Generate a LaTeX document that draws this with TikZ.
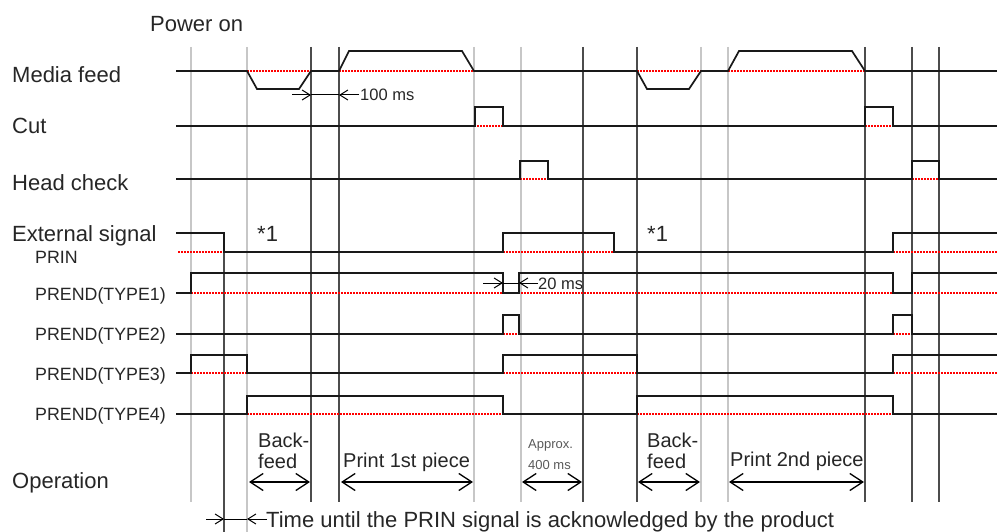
\documentclass[tikz,border=0pt]{standalone}
\usepackage{fontspec}
\setmainfont{Liberation Sans}
\usetikzlibrary{arrows.meta}
\begin{document}
\begin{tikzpicture}[x=1pt,y=-1pt,
  sig/.style={line width=1.7pt, black!90},
  refl/.style={red, dash pattern=on 2pt off 1pt, line width=1.2pt},
  vgray/.style={line width=2.4pt, black!22},
  vdark/.style={line width=1.1pt, black!70},
  lbl/.style={anchor=base west, inner sep=0pt, font=\fontsize{22}{24}\selectfont, text=black!85},
  slbl/.style={anchor=base west, inner sep=0pt, font=\fontsize{17.8}{20}\selectfont, text=black!85},
  oplbl/.style={anchor=base west, inner sep=0pt, font=\fontsize{20}{22}\selectfont, text=black!85},
  tiny/.style={anchor=base west, inner sep=0pt, font=\fontsize{13}{15}\selectfont, text=black!65},
  sarr/.style={line width=1pt, -{Straight Barb[length=8pt,width=10pt]}},
  darr/.style={line width=1.3pt, {Straight Barb[length=13pt,width=17pt]}-{Straight Barb[length=13pt,width=17pt]}},
]
\useasboundingbox (0,0) rectangle (997,532);

% vertical grid lines
\foreach \xx in {191,474,521,701,728} \draw[vgray] (\xx,47) -- (\xx,502);
\draw[vgray] (247,47) -- (247,532);
\foreach \xx in {311,339,583,637,865,912,939} \draw[vdark] (\xx,47) -- (\xx,502);
\draw[vdark] (224,233) -- (224,532);

% red reference lines
\draw[refl] (247,71) -- (311,71);
\draw[refl] (339,71) -- (474,71);
\draw[refl] (637,71) -- (701,71);
\draw[refl] (728,71) -- (865,71);
\draw[refl] (474,126) -- (503,126);
\draw[refl] (865,126) -- (893,126);
\draw[refl] (520,179) -- (548,179);
\draw[refl] (912,179) -- (939,179);
\draw[refl] (178,252) -- (224,252);
\draw[refl] (503,252) -- (614,252);
\draw[refl] (893,252) -- (997,252);
\draw[refl] (191,293) -- (997,293);
\draw[refl] (503,334) -- (519,334);
\draw[refl] (893,334) -- (912,334);
\draw[refl] (191,373) -- (997,373);
\draw[refl] (247,414) -- (503,414);
\draw[refl] (637,414) -- (893,414);

% signals
\draw[sig] (176,71) -- (247,71) -- (257,89) -- (299,89) -- (311,71) -- (339,71) -- (349,51) -- (462,51) -- (474,71)
  -- (637,71) -- (647,89) -- (689,89) -- (701,71) -- (728,71) -- (739,51) -- (852,51) -- (865,71) -- (997,71);
\draw[sig] (176,126) -- (475,126) -- (475,107) -- (503,107) -- (503,126) -- (865,126) -- (865,107) -- (893,107) -- (893,126) -- (997,126);
\draw[sig] (176,179) -- (520,179) -- (520,161) -- (548,161) -- (548,179) -- (912,179) -- (912,161) -- (939,161) -- (939,179) -- (997,179);
\draw[sig] (176,233) -- (224,233) -- (224,252) -- (503,252) -- (503,233) -- (614,233) -- (614,252) -- (893,252) -- (893,233) -- (997,233);
\draw[sig] (176,293) -- (191,293) -- (191,273) -- (503,273) -- (503,293) -- (519,293) -- (519,273) -- (893,273) -- (893,293) -- (912,293) -- (912,273) -- (997,273);
\draw[sig] (176,334) -- (503,334) -- (503,315) -- (519,315) -- (519,334) -- (893,334) -- (893,315) -- (912,315) -- (912,334) -- (997,334);
\draw[sig] (176,373) -- (191,373) -- (191,355) -- (247,355) -- (247,373) -- (503,373) -- (503,355) -- (637,355) -- (637,373) -- (893,373) -- (893,355) -- (997,355);
\draw[sig] (176,414) -- (247,414) -- (247,396) -- (503,396) -- (503,414) -- (637,414) -- (637,396) -- (893,396) -- (893,414) -- (997,414);

% labels
\node[lbl] (pwr) at (150,32) {Power on};
\node[lbl] (mf) at (12,83) {Media feed};
\node[lbl] (cut) at (12,134) {Cut};
\node[lbl] (hc) at (12,190.5) {Head check};
\node[lbl] (ext) at (12,241) {External signal};
\node[slbl] (prin) at (35,263) {PRIN};
\node[slbl] (t1) at (35,300) {PREND(TYPE1)};
\node[slbl] (t2) at (35,340.5) {PREND(TYPE2)};
\node[slbl] (t3) at (35,380) {PREND(TYPE3)};
\node[slbl] (t4) at (35,420.5) {PREND(TYPE4)};
\node[lbl] (op) at (12,488) {Operation};
\node[lbl] (s1a) at (257,241) {*1};
\node[lbl] (s1b) at (647,241) {*1};

% 100 ms
\coordinate (a1) at (292,95); \coordinate (a2) at (311,95);
\coordinate (a3) at (339,95); \coordinate (a4) at (359,95);
\draw[sarr] (a1) -- (a2);
\draw[line width=1pt] (a2) -- (a3);
\draw[sarr] (a4) -- (a3);
\node[slbl, font=\fontsize{16.5}{18}\selectfont] (ms100) at (360,101) {100 ms};

% 20 ms
\coordinate (b1) at (483,283); \coordinate (b2) at (503,283);
\coordinate (b3) at (519,283); \coordinate (b4) at (538,283);
\draw[sarr] (b1) -- (b2);
\draw[line width=1pt] (b2) -- (b3);
\draw[sarr] (b4) -- (b3);
\node[slbl, font=\fontsize{16.5}{18}\selectfont] (ms20) at (538,289) {20 ms};

% operation
\node[oplbl] (bf1a) at (258,447) {Back-};
\node[oplbl] (bf1b) at (258,468) {feed};
\node[oplbl] (p1) at (343,467) {Print 1st piece};
\node[tiny] (ap1) at (528,448) {Approx.};
\node[tiny] (ap2) at (528,469) {400 ms};
\node[oplbl] (bf2a) at (647,447) {Back-};
\node[oplbl] (bf2b) at (647,468) {feed};
\node[oplbl] (p2) at (730,466) {Print 2nd piece};

\draw[darr] (249,482) -- (310,482);
\draw[darr] (341,482) -- (473,482);
\draw[darr] (522,482) -- (582,482);
\draw[darr] (638,482) -- (700,482);
\draw[darr] (729,482) -- (864,482);

% bottom
\coordinate (c1) at (206,519); \coordinate (c2) at (224,519);
\coordinate (c3) at (247,519); \coordinate (c4) at (267,519);
\draw[sarr] (c1) -- (c2);
\draw[line width=1pt] (c2) -- (c3);
\draw[sarr] (c4) -- (c3);
\node[lbl] (tl) at (266,527) {Time until the PRIN signal is acknowledged by the product};
\end{tikzpicture}
\end{document}
